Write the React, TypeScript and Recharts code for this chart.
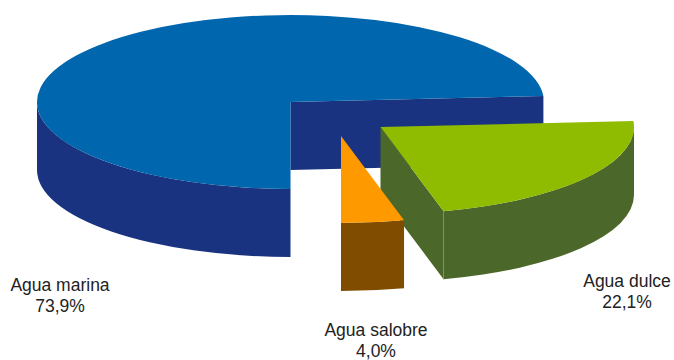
import React from "react";
import { PieChart, Pie, Cell } from "recharts";

const sliceNames = ["Agua marina", "Agua dulce", "Agua salobre"];
const sliceShares = [73.9, 22.1, 4.0];
const shareLabels = ["73,9%", "22,1%", "4,0%"];

const topColors = ["#0066ae", "#8fbc00", "#ff9900"];
const wallColors = ["#1a3380", "#4b6729", "#804d00"];
const seamColors = ["none", "#7f9567", "none"];

// Exploded slice offsets and label anchors, in pixels
const sliceOffsets = [
  { x: 0, y: 0 },
  { x: 90, y: 25 },
  { x: 50.5, y: 34 },
];
const labelAnchors = [
  { x: 60, y: 291 },
  { x: 627, y: 287 },
  { x: 376, y: 336 },
];

const CENTER_X = 290.5;
const CENTER_Y = 102;
const RADIUS = 253.5;
const TILT = 0.343; // vertical squash of the pie disc
const DEPTH = 68;
const LINE_GAP = 20.5;

const chartData = sliceNames.map((name, i) => ({
  name,
  value: sliceShares[i],
  shareLabel: shareLabels[i],
}));

const rad = (deg: number) => (deg * Math.PI) / 180;

// Draws one recharts sector as a tilted disc slice with side walls
function Slice3D(props: any) {
  const { cx, cy, outerRadius, startAngle, endAngle, index } = props;
  const off = sliceOffsets[index];
  const ox = cx + off.x;
  const oy = cy + off.y;
  const rx = outerRadius;
  const ry = outerRadius * TILT;

  // the pie runs clockwise, so put each sector's angles in ascending order
  let from = Math.min(startAngle, endAngle);
  let to = Math.max(startAngle, endAngle);
  if (from < 0) {
    from += 360;
    to += 360;
  }

  const px = (a: number) => ox + rx * Math.cos(rad(a));
  const py = (a: number) => oy - ry * Math.sin(rad(a));

  const large = to - from > 180 ? 1 : 0;
  const top = `M${ox},${oy} L${px(from)},${py(from)} A${rx},${ry} 0 ${large} 0 ${px(to)},${py(to)} Z`;

  const face = (a: number) =>
    `M${ox},${oy} L${px(a)},${py(a)} L${px(a)},${py(a) + DEPTH} L${ox},${oy + DEPTH} Z`;

  // cut faces only show when they turn towards the viewer
  const showFrom = Math.sin(rad(from - 90)) < 0;
  const showTo = Math.sin(rad(to + 90)) < 0;

  // the rim is only visible on the front half of the disc
  const rimFrom = Math.max(from, 180);
  const rimTo = Math.min(to, 360);
  const hasRim = rimTo > rimFrom;
  const rim = hasRim
    ? `M${px(rimFrom)},${py(rimFrom)} A${rx},${ry} 0 0 0 ${px(rimTo)},${py(rimTo)} L${px(rimTo)},${py(rimTo) + DEPTH} A${rx},${ry} 0 0 1 ${px(rimFrom)},${py(rimFrom) + DEPTH} Z`
    : "";

  return (
    <g>
      {showFrom && <path d={face(from)} fill={wallColors[index]} />}
      {showTo && <path d={face(to)} fill={wallColors[index]} />}
      {hasRim && <path d={rim} fill={wallColors[index]} />}
      {seamColors[index] !== "none" && (
        <line
          x1={px(from)}
          y1={py(from)}
          x2={px(from)}
          y2={py(from) + DEPTH}
          stroke={seamColors[index]}
          strokeWidth={1}
        />
      )}
      <path d={top} fill={topColors[index]} />
    </g>
  );
}

// Two-line caption: slice name above its share
function SliceLabel(props: any) {
  const { index, name, payload } = props;
  const at = labelAnchors[index];
  return (
    <text
      x={at.x}
      textAnchor="middle"
      fontFamily="Liberation Sans, Arial, sans-serif"
      fontSize={17.5}
      fill="#222222"
    >
      <tspan x={at.x} y={at.y}>
        {name}
      </tspan>
      <tspan x={at.x} y={at.y + LINE_GAP}>
        {payload.shareLabel}
      </tspan>
    </text>
  );
}

export default function App() {
  return (
    <div style={{ position: "absolute", left: 0, top: 0, width: 674, height: 360, background: "#ffffff" }}>
      <PieChart width={674} height={360} margin={{ top: 0, right: 0, bottom: 0, left: 0 }}>
        <Pie
          data={chartData}
          dataKey="value"
          nameKey="name"
          cx={CENTER_X}
          cy={CENTER_Y}
          innerRadius={0}
          outerRadius={RADIUS}
          startAngle={270}
          endAngle={-90}
          stroke="none"
          shape={Slice3D}
          label={SliceLabel}
          labelLine={false}
          isAnimationActive={false}
        >
          {chartData.map((d, i) => (
            <Cell key={d.name} fill={topColors[i]} />
          ))}
        </Pie>
      </PieChart>
    </div>
  );
}
